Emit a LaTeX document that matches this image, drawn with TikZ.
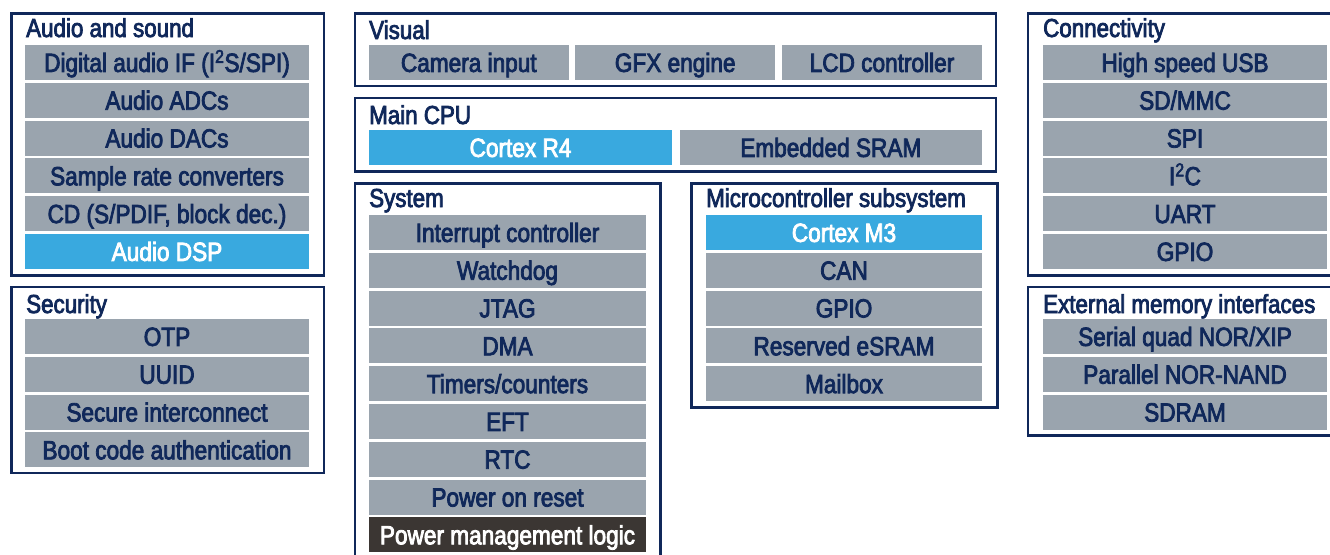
\documentclass[tikz,border=0pt]{standalone}
\usepackage{fontspec}
\setmainfont{Liberation Sans}[FakeStretch=0.86,FakeBold=3]
\definecolor{stnavy}{HTML}{10285A}
\definecolor{stgray}{HTML}{9AA4AE}
\definecolor{stblue}{HTML}{39A9DF}
\definecolor{stdark}{HTML}{3B3633}

\tikzset{
  grp/.style={draw=stnavy, line width=2.4pt},
  grptitle/.style={anchor=base west, inner sep=0pt, text=stnavy, font=\fontsize{26}{28}\selectfont},
  item/.style={fill=stgray, text=stnavy, inner sep=0pt, minimum height=35pt,
    text height=18.8pt, text depth=0pt, font=\fontsize{26.3}{28}\selectfont},
  core/.style={item, fill=stblue, text=white},
  pwr/.style={item, fill=stdark, text=white},
}

\begin{document}
\begin{tikzpicture}[x=1pt,y=-1pt]
\useasboundingbox (0,0) rectangle (1330,554);
\clip (0,0) rectangle (1330,554);
\pgfmathsetmacro{\pitch}{37.8}

\draw[grp] (11.5,13.5) rectangle (324,275.5);
\node[grptitle] (audT) at (26,37) {Audio and sound};
\foreach \txt [count=\i] in {Digital audio IF (I\textsuperscript{2}S/SPI), Audio ADCs, Audio DACs,
    Sample rate converters, {CD (S/PDIF, block dec.)}}
  \node[item, minimum width=284pt] (aud\i) at (167,{62.5+\pitch*(\i-1)}) {\txt};
\node[core, minimum width=284pt] (aud6) at (167,{62.5+\pitch*5}) {Audio DSP};

\draw[grp] (11.5,287) rectangle (324,473);
\node[grptitle] (secT) at (26,313) {Security};
\foreach \txt [count=\i] in {OTP, UUID, Secure interconnect, Boot code authentication}
  \node[item, minimum width=284pt] (sec\i) at (167,{336.5+\pitch*(\i-1)}) {\txt};

\draw[grp] (355,13.5) rectangle (996,86);
\node[grptitle] (visT) at (369,39) {Visual};
\node[item, minimum width=199.5pt] (vis1) at (468.8,62.5) {Camera input};
\node[item, minimum width=199.5pt] (vis2) at (675.2,62.5) {GFX engine};
\node[item, minimum width=199.5pt] (vis3) at (882,62.5) {LCD controller};

\draw[grp] (355,98) rectangle (996,171.5);
\node[grptitle] (cpuT) at (369,124) {Main CPU};
\node[core, minimum width=303pt] (cpu1) at (520.5,147.5) {Cortex R4};
\node[item, minimum width=302.5pt] (cpu2) at (830.8,147.5) {Embedded SRAM};

\draw[grp] (355,183.5) rectangle (660.5,600);
\node[grptitle] (sysT) at (369,207) {System};
\foreach \txt [count=\i] in {Interrupt controller, Watchdog, JTAG, DMA, Timers/counters,
    EFT, RTC, Power on reset}
  \node[item, minimum width=277pt] (sys\i) at (507.5,{232.5+\pitch*(\i-1)}) {\txt};
\node[pwr, minimum width=277pt] (sys9) at (507.5,{232.5+\pitch*8}) {Power management logic};

\draw[grp] (691.5,183.5) rectangle (997.5,407.5);
\node[grptitle] (mcuT) at (706,207) {Microcontroller subsystem};
\node[core, minimum width=276pt] (mcu1) at (844,232.5) {Cortex M3};
\foreach \txt [count=\i from 2] in {CAN, GPIO, Reserved eSRAM, Mailbox}
  \node[item, minimum width=276pt] (mcu\i) at (844,{232.5+\pitch*(\i-1)}) {\txt};

\draw[grp] (1028,13.5) rectangle (1345,275.5);
\node[grptitle] (conT) at (1043,37) {Connectivity};
\foreach \txt [count=\i] in {High speed USB, SD/MMC, SPI, I\textsuperscript{2}C, UART, GPIO}
  \node[item, minimum width=284pt] (con\i) at (1185,{62.5+\pitch*(\i-1)}) {\txt};

\draw[grp] (1028,287) rectangle (1345,435.5);
\node[grptitle] (extT) at (1043,313) {External memory interfaces};
\foreach \txt [count=\i] in {Serial quad NOR/XIP, Parallel NOR-NAND, SDRAM}
  \node[item, minimum width=284pt] (ext\i) at (1185,{336.5+\pitch*(\i-1)}) {\txt};
\end{tikzpicture}
\end{document}
